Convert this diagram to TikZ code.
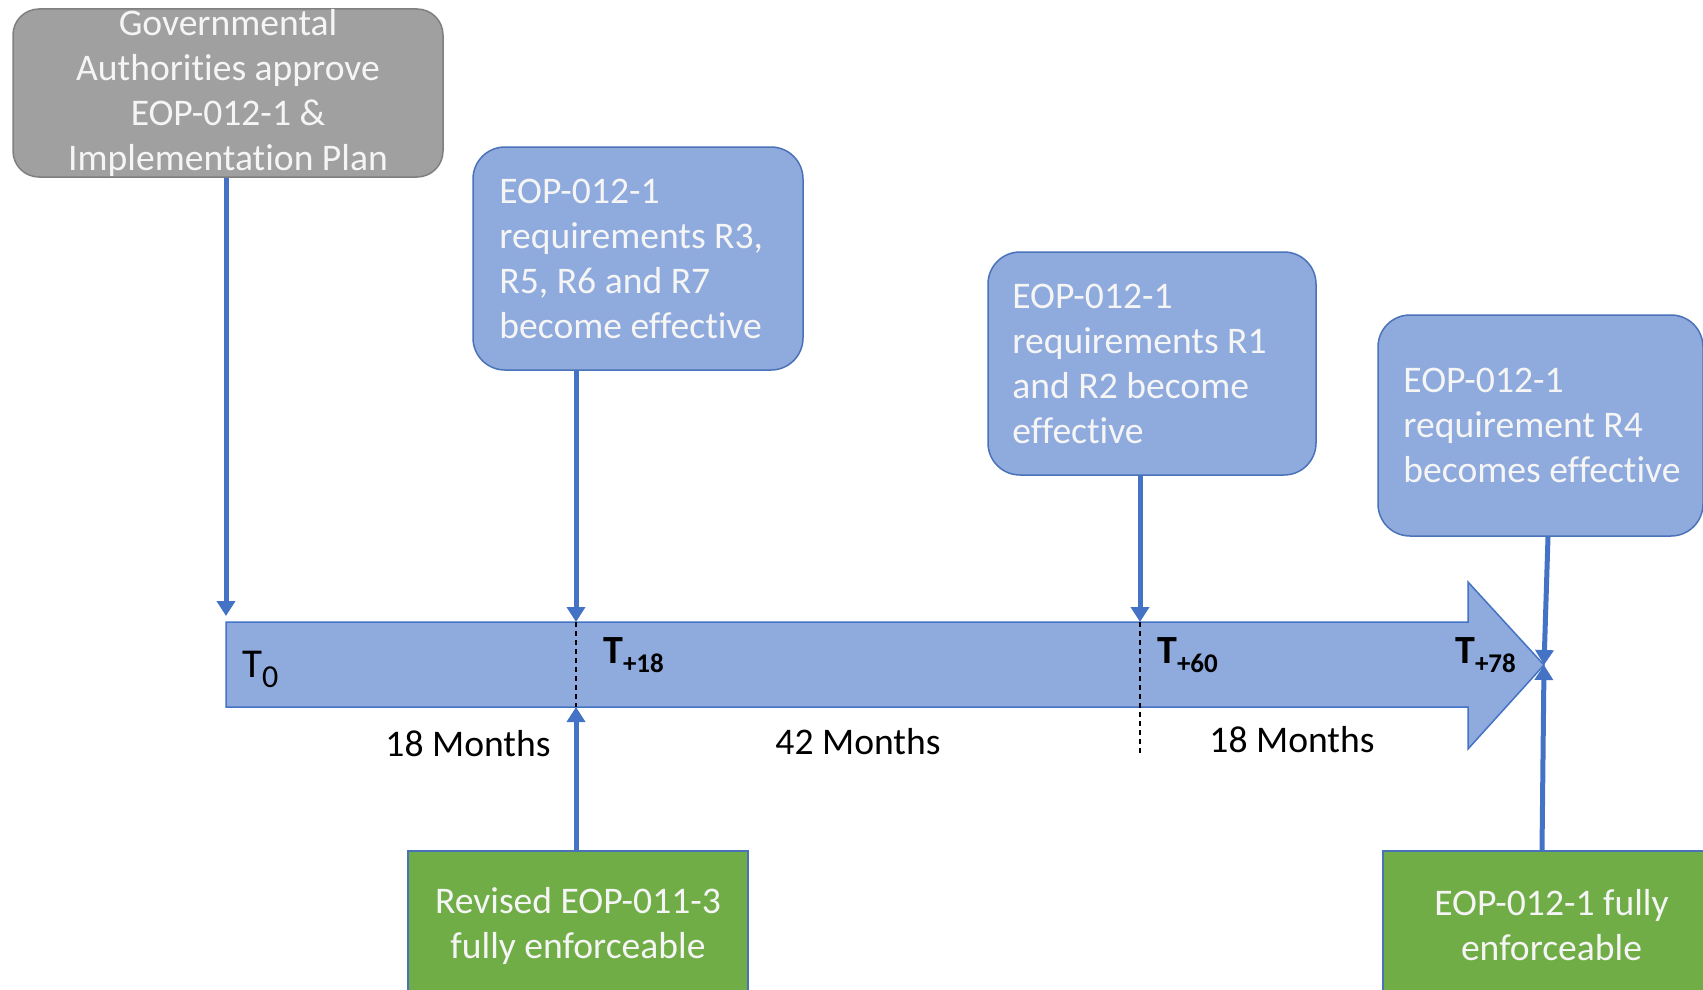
\documentclass[tikz,border=0pt]{standalone}
\usepackage{fontspec}
\setmainfont{Carlito}[Ligatures=NoCommon]
\usetikzlibrary{arrows.meta}
\definecolor{bfill}{HTML}{8FAADC}
\definecolor{bline}{HTML}{4A72B8}
\definecolor{conncol}{HTML}{4472C4}
\definecolor{gfill}{HTML}{A0A0A0}
\definecolor{gline}{HTML}{7F7F7F}
\definecolor{grfill}{HTML}{70AD47}
\definecolor{wtxt}{HTML}{F5F5F5}
\tikzset{
  bluebox/.style={draw=bline, line width=1.5pt, fill=bfill, rounded corners=32pt, inner sep=0pt},
  graybox/.style={draw=gline, line width=1.5pt, fill=gfill, rounded corners=26pt, inner sep=0pt},
  greenbox/.style={draw=bline, line width=1.2pt, fill=grfill, inner sep=0pt, text=wtxt, align=center,
    font=\fontsize{37.6}{45}\selectfont},
  wtext/.style={text=wtxt, inner sep=0pt, font=\fontsize{37.6}{45}\selectfont},
  btext/.style={wtext, align=left, anchor=west},
  conn/.style={draw=conncol, line width=5pt, -{Triangle[width=18pt,length=15pt]}},
  dashline/.style={draw=black, line width=1.2pt, dash pattern=on 5pt off 4pt},
  months/.style={inner sep=0pt, font=\fontsize{37.6}{45}\selectfont},
  tlab/.style={inner sep=0pt, anchor=base west}
}
\begin{document}
\begin{tikzpicture}[x=1pt,y=-1pt]
\useasboundingbox (0,0) rectangle (1703,990);

% timeline arrow
\draw[draw=conncol, line width=1.5pt, fill=bfill]
  (226,622) -- (1468,622) -- (1468,582) -- (1544,665) -- (1468,749) -- (1468,707) -- (226,707) -- cycle;
\coordinate (t0top) at (226,616);
\coordinate (m18top) at (576,622);
\coordinate (m18bot) at (576,707);
\coordinate (m60top) at (1140,622);
\coordinate (m60end) at (1140,755);
\coordinate (tip) at (1544,665);

% dashed markers
\draw[dashline] (m18top) -- (m18bot);
\draw[dashline] (m60top) -- (m60end);

% boxes
\node[graybox, minimum width=430pt, minimum height=168pt] (gov) at (228,93) {};
\node[wtext, align=center] at (gov.center) {Governmental\\Authorities approve\\EOP-012-1 \&\\Implementation Plan};

\node[bluebox, minimum width=330pt, minimum height=223pt] (b1) at (638,258.5) {};
\node[btext] at ([xshift=27pt]b1.west) {EOP-012-1\\requirements R3,\\R5, R6 and R7\\become effective};

\node[bluebox, minimum width=328pt, minimum height=223pt] (b2) at (1152,363.5) {};
\node[btext] at ([xshift=25pt]b2.west) {EOP-012-1\\requirements R1\\and R2 become\\effective};

\node[bluebox, minimum width=325pt, minimum height=221pt] (b3) at (1540.5,425.5) {};
\node[btext] at ([xshift=26pt]b3.west) {EOP-012-1\\requirement R4\\becomes effective};

\node[greenbox, minimum width=340pt, minimum height=149pt] (g1) at (578,925.5) {Revised EOP-011-3\\fully enforceable};
\node[greenbox, minimum width=337pt, minimum height=149pt] (g2) at (1551.5,925.5) {EOP-012-1 fully\\enforceable};

% connectors
\draw[conn] (gov.south -| t0top) -- (t0top);
\draw[conn] (b1.south -| m18top) -- (m18top);
\draw[conn] (b2.south -| m60top) -- (m60top);
\draw[conn] ([xshift=7.5pt]b3.south) -- (tip);
\draw[conn] (g1.north -| m18bot) -- (m18bot);
\draw[conn] ([xshift=-9.5pt]g2.north) -- (tip);

% time labels
\node[tlab] (lt0) at (242,677) {\fontsize{41}{41}\selectfont T\raisebox{-10pt}{\fontsize{32}{32}\selectfont 0}};
\node[tlab] (lt18) at (603,663) {\bfseries\fontsize{40}{40}\selectfont T\raisebox{-9pt}{\fontsize{27}{27}\selectfont +18}};
\node[tlab] (lt60) at (1157,663) {\bfseries\fontsize{40}{40}\selectfont T\raisebox{-9pt}{\fontsize{27}{27}\selectfont +60}};
\node[tlab] (lt78) at (1455,663) {\bfseries\fontsize{40}{40}\selectfont T\raisebox{-9pt}{\fontsize{27}{27}\selectfont +78}};

% month labels
\node[months] (mo1) at (468,744) {18 Months};
\node[months] (mo2) at (858,742) {42 Months};
\node[months] (mo3) at (1292,740) {18 Months};
\end{tikzpicture}
\end{document}
